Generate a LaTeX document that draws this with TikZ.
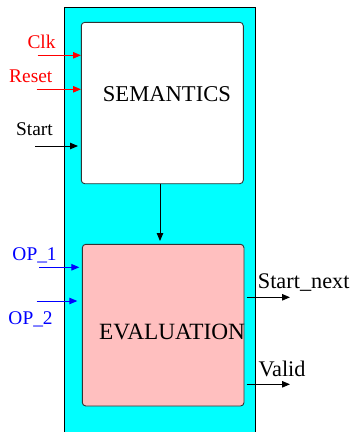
\documentclass[tikz,border=0pt]{standalone}
\usepackage{fontspec}
\setmainfont{Liberation Serif}
\usetikzlibrary{arrows.meta}
\definecolor{panelcyan}{HTML}{00FFFF}
\definecolor{evalpink}{HTML}{FFBFBF}
\definecolor{boxedge}{HTML}{333333}
\begin{document}
\begin{tikzpicture}[x=1pt,y=-1pt,
  sig/.style={line width=0.9pt,-{Triangle[length=8pt,width=6.5pt]}},
  unit/.style={draw=boxedge,line width=0.9pt,rounded corners=3.5pt},
  biglbl/.style={font=\fontsize{22.6}{26}\selectfont,inner sep=0pt,anchor=base west},
  inlbl/.style={font=\fontsize{19.4}{23}\selectfont,inner sep=0pt,anchor=base west},
  outlbl/.style={font=\fontsize{22.3}{26}\selectfont,inner sep=0pt,anchor=base west}]
\useasboundingbox (0,0) rectangle (353,432);
% enclosing panel
\fill[panelcyan] (64.3,7.3) rectangle (255.7,433);
\draw[line width=0.9pt] (64.3,433) -- (64.3,7.3) -- (255.7,7.3) -- (255.7,433);
% functional units
\draw[unit,fill=white] (81.3,22.3) rectangle (243.3,183.7);
\draw[unit,fill=evalpink] (82.3,244.3) rectangle (244,406);
\node[biglbl] (semtxt) at (102.7,101.5) {SEMANTICS};
\node[biglbl,font=\fontsize{23.3}{26}\selectfont] (evaltxt) at (99,339.3) {EVALUATION};
% internal connection
\coordinate (semS) at (160,183.7);
\coordinate (evalN) at (160,241);
\draw[sig] (semS) -- (evalN);
% inputs
\coordinate (clkA) at (37.7,55.3);   \coordinate (clkB) at (81,55.3);
\coordinate (rstA) at (36.7,89.3);   \coordinate (rstB) at (81,89.3);
\coordinate (stA) at (35,146);       \coordinate (stB) at (78,146);
\coordinate (op1A) at (39,267.3);    \coordinate (op1B) at (79.3,267.3);
\coordinate (op2A) at (36.7,301);    \coordinate (op2B) at (77.3,301);
\draw[sig,red] (clkA) -- (clkB);
\draw[sig,red] (rstA) -- (rstB);
\draw[sig] (stA) -- (stB);
\draw[sig,blue] (op1A) -- (op1B);
\draw[sig,blue] (op2A) -- (op2B);
\node[inlbl,text=red] (clk) at (27.3,48.3) {Clk};
\node[inlbl,text=red] (rst) at (9,82.3) {Reset};
\node[inlbl] (start) at (16,135.3) {Start};
\node[inlbl,text=blue] (op1) at (12.3,260) {OP\_1};
\node[inlbl,text=blue] (op2) at (8.3,324) {OP\_2};
% outputs
\coordinate (snA) at (246.7,297.3);  \coordinate (snB) at (290,297.3);
\coordinate (vA) at (246.7,384.3);   \coordinate (vB) at (290,384.3);
\draw[sig] (snA) -- (snB);
\draw[sig] (vA) -- (vB);
\node[outlbl] (snext) at (257.7,288.3) {Start\_next};
\node[outlbl] (valid) at (258.3,376.7) {Valid};
\end{tikzpicture}
\end{document}
